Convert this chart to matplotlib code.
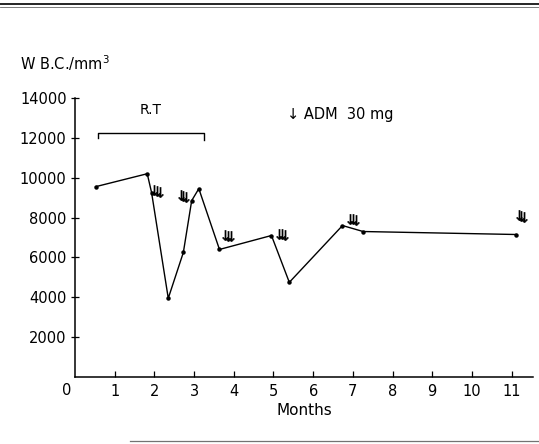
import matplotlib
matplotlib.use("Agg")
import matplotlib.pyplot as plt
from matplotlib.lines import Line2D

# W.B.C. count over months
months = [0.52, 1.82, 1.93, 2.35, 2.73, 2.94, 3.12, 3.64, 4.95, 5.40, 6.74, 7.26, 11.12]
wbc = [9550, 10200, 9250, 3950, 6250, 8850, 9450, 6400, 7100, 4750, 7600, 7300, 7150]

# ADM 30 mg doses (triple arrows)
adm_months = [2.06, 2.73, 3.86, 5.21, 7.00, 11.25]
adm_level = [9330, 9080, 7090, 7170, 7920, 8080]

# radiotherapy period
rt_start, rt_end = 0.57, 3.25
rt_level = 12230

xticks = [1, 2, 3, 4, 5, 6, 7, 8, 9, 10, 11]
yticks = [2000, 4000, 6000, 8000, 10000, 12000, 14000]

plt.rcParams['font.family'] = ['DejaVu Sans']
W, H = 539, 444
fig = plt.figure(figsize=(W / 100, H / 100), dpi=100)
ax = fig.add_axes([75 / W, 67 / H, (533 - 75) / W, (377 - 98) / H])

ax.plot(months, wbc, color='black', lw=1.0, marker='o', ms=2.2)

# three little arrows per dose
dx = 0.07
for m, lv in zip(adm_months, adm_level):
    ax.plot([m - dx, m, m + dx], [lv + 30, lv, lv - 30], ls='none',
            marker=r'$\downarrow$', ms=7.5, color='black', mew=0.3)

# R.T bracket
ax.plot([rt_start, rt_start, rt_end, rt_end],
        [rt_level - 250, rt_level, rt_level, rt_level - 350],
        color='black', lw=1.0)
ax.text((rt_start + rt_end) / 2, rt_level + 800, 'R.T', ha='center', va='bottom',
        fontsize=10)

ax.text(5.34, 13170, '\u2193 ADM  30 mg', ha='left', va='center', fontsize=10.5)

ax.set_xlim(0, 11.54)
ax.set_ylim(0, 14000)
ax.set_xticks(xticks)
ax.set_xticklabels([str(t) for t in xticks])
ax.set_yticks(yticks)
ax.set_yticklabels([str(t) for t in yticks])
ax.tick_params(axis='x', direction='in', length=4, width=0.9, labelsize=10.5, pad=5)
ax.tick_params(axis='y', direction='inout', length=6, width=0.9, labelsize=10.5, pad=3)
ax.spines['top'].set_visible(False)
ax.spines['right'].set_visible(False)
ax.spines['left'].set_linewidth(1.1)
ax.spines['bottom'].set_linewidth(1.1)
ax.text(-0.2, -0.047, '0', transform=ax.get_xaxis_transform(), ha='center', va='center',
        fontsize=10.5)
ax.set_xlabel('Months', fontsize=11, labelpad=3)

fig.text(20 / W, 1 - 63 / H, 'W B.C./mm$^3$', ha='left', va='center', fontsize=10.5)

# scan rules at top and bottom
fig.add_artist(Line2D([0, 1], [1 - 4 / H, 1 - 4 / H], color='black', lw=1.2))
fig.add_artist(Line2D([0, 1], [1 - 7 / H, 1 - 7 / H], color='0.4', lw=0.6))
fig.add_artist(Line2D([130 / W, 1], [1 - 441 / H, 1 - 441 / H], color='0.45', lw=0.9))

fig.savefig('out.png', dpi=100)
